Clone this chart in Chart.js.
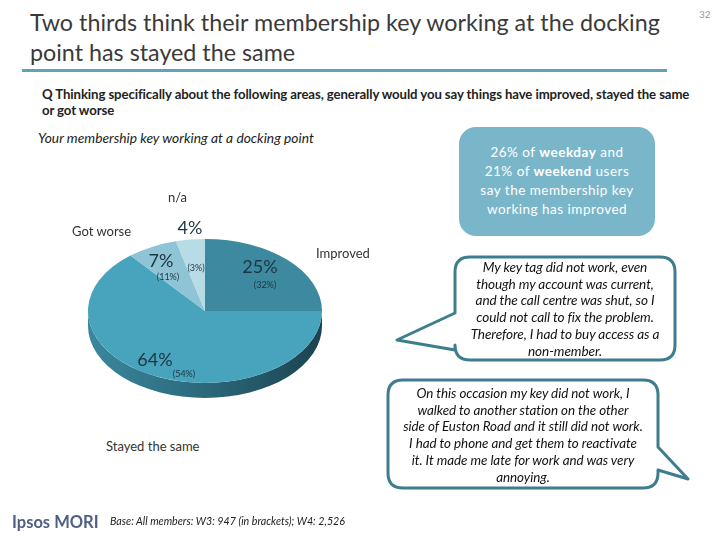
<!DOCTYPE html>
<html>
<head>
<meta charset="utf-8">
<script src="https://cdn.jsdelivr.net/npm/chart.js@4.4.1/dist/chart.umd.min.js"></script>
<style>
  html, body { margin:0; padding:0; background:#fff; }
  body { width:720px; height:540px; position:relative; overflow:hidden; font-family: Lato, "Open Sans", sans-serif; }
  .abs { position:absolute; white-space:nowrap; }
  #title { left:30px; top:7px; font-size:23.3px; line-height:30px; color:#3a3a3a; white-space:normal; width:670px; }
  #rule { left:22px; top:69px; width:645px; height:3px; background:#5ea4b7; }
  #question { left:42px; top:86px; font-size:13.2px; font-weight:bold; color:#222; line-height:16px; width:668px; white-space:normal; letter-spacing:-0.1px; }
  #sub { left:38px; top:129px; font-size:13.8px; font-style:italic; color:#222; }
  #page { left:699px; top:8px; font-size:10px; color:#999; }
  .cat { font-size:13px; color:#333; }
  .big { font-size:18px; line-height:1; color:#1d3540; transform:translate(-50%,-50%); }
  .small { font-size:9px; line-height:1; color:#1d3540; transform:translate(-50%,-50%); }
  #callout { left:459px; top:127px; width:196px; height:109px; background:#7ab6ca; border-radius:17px; color:#fff; font-size:13.5px; text-align:center; line-height:19px; letter-spacing:0.5px; box-sizing:border-box; padding-top:16px; }
  .quote { font-style:italic; color:#111; text-align:center; line-height:16.7px; }
  #logo { left:12px; top:512px; font-size:16.5px; font-weight:bold; color:#4f5e85; }
  #base { left:110px; top:514px; font-size:10.7px; font-style:italic; color:#222; }
  #pieWrap { left:88px; top:194px; width:234px; height:234px; }
</style>
</head>
<body>
<div class="abs" id="title">Two thirds think their membership key working at the docking point has stayed the same</div>
<div class="abs" id="rule"></div>
<div class="abs" id="page">32</div>
<div class="abs" id="question">Q Thinking specifically about the following areas, generally would you say things have improved, stayed the same<br>or got worse</div>
<div class="abs" id="sub">Your membership key working at a docking point</div>

<div class="abs" id="pieWrap"><canvas id="pie" width="234" height="234"></canvas></div>
<div id="labels"></div>

<div class="abs" id="callout">26% of <b>weekday</b> and<br>21% of <b>weekend</b> users<br>say the membership key<br>working has improved</div>

<svg class="abs" style="left:0;top:0" width="720" height="540">
  <path d="M470,257 H660 Q675,257 675,272 V345 Q675,360 660,360 H470 Q455,360 455,345 V350 L397,340 L455,313 V272 Q455,257 470,257 Z" fill="#fff" stroke="#3e7d8e" stroke-width="3" stroke-linejoin="round"/>
  <path d="M403,380 H643 Q658,380 658,395 V447 L688,479 L658,470 V473 Q658,488 643,488 H403 Q388,488 388,473 V395 Q388,380 403,380 Z" fill="#fff" stroke="#3e7d8e" stroke-width="3" stroke-linejoin="round"/>
</svg>
<div class="abs quote" style="left:455px;top:259px;width:220px;font-size:13.6px;letter-spacing:-0.1px;">My key tag did not work, even<br>though my account was current,<br>and the call centre was shut, so I<br>could not call to fix the problem.<br>Therefore, I had to buy access as a<br>non-member.</div>
<div class="abs quote" style="left:388px;top:385px;width:270px;font-size:13.4px;letter-spacing:-0.05px;">On this occasion my key did not work, I<br>walked to another station on the other<br>side of Euston Road and it still did not work.<br>I had to phone and get them to reactivate<br>it. It made me late for work and was very<br>annoying.</div>

<div class="abs" id="logo">Ipsos MORI</div>
<div class="abs" id="base">Base: All members: W3: 947 (in brackets); W4: 2,526</div>

<script>
// ---- data ----
const categories = ["Improved", "Stayed the same", "Got worse", "n/a"];
const wave4 = [25, 64, 7, 4];          // main figures (W4)
const wave3 = [32, 54, 11, 3];         // in brackets (W3)
const sliceColors = ["#3d8aa0", "#48a3bd", "#8ec4d5", "#b8dce6"];

// ---- label placement (layout only) ----
const catPos = [[316, 245], [106, 438], [72, 223], [168, 189]];
const bigPos = [[260, 266], [155, 359], [161, 260], [190, 227]];
const smallPos = [[265, 284], [184, 373], [168, 276], [196, 267]];

const lab = document.getElementById('labels');
categories.forEach((c, i) => {
  const d = document.createElement('div');
  d.className = 'abs cat'; d.textContent = c;
  d.style.left = catPos[i][0] + 'px'; d.style.top = catPos[i][1] + 'px';
  lab.appendChild(d);
});

const K = 0.615;     // vertical squash of the pie (tilt)
const DEPTH = 15;    // side depth in screen px

const tiltPlugin = {
  id: 'tilt',
  beforeDatasetsDraw(chart) {
    const ctx = chart.ctx;
    const meta = chart.getDatasetMeta(0);
    const a0 = meta.data[0];
    const cx = a0.x, cy = a0.y;
    ctx.save();
    ctx.translate(cx, cy); ctx.scale(1, K); ctx.translate(-cx, -cy);
    const d = DEPTH / K;
    meta.data.forEach((arc) => {
      const r = arc.outerRadius;
      let s = arc.startAngle, e = arc.endAngle;
      for (const shift of [0, -2 * Math.PI, 2 * Math.PI]) {
        const a = Math.max(s + shift, 0), b = Math.min(e + shift, Math.PI);
        if (a < b) {
          const g = ctx.createLinearGradient(cx - r, 0, cx + r, 0);
          g.addColorStop(0, '#3a879d');
          g.addColorStop(0.45, '#2d6c7f');
          g.addColorStop(1, '#1b4350');
          ctx.beginPath();
          ctx.arc(cx, cy, r, a, b, false);
          ctx.lineTo(cx + r * Math.cos(b), cy + r * Math.sin(b) + d);
          ctx.arc(cx, cy + d, r, b, a, true);
          ctx.closePath();
          ctx.fillStyle = g;
          ctx.fill();
        }
      }
    });
  },
  afterDatasetsDraw(chart) {
    chart.ctx.restore();
  }
};

new Chart(document.getElementById('pie'), {
  type: 'pie',
  data: {
    labels: categories,
    datasets: [{ data: wave4, backgroundColor: sliceColors, borderWidth: 0 }]
  },
  options: {
    responsive: false,
    animation: false,
    events: [],
    layout: { padding: 0 },
    plugins: { legend: { display: false }, tooltip: { enabled: false } }
  },
  plugins: [tiltPlugin]
});

wave4.forEach((v, i) => {
  const d = document.createElement('div');
  d.className = 'abs big'; d.textContent = v + '%';
  d.style.left = bigPos[i][0] + 'px'; d.style.top = bigPos[i][1] + 'px';
  lab.appendChild(d);
  const s = document.createElement('div');
  s.className = 'abs small'; s.textContent = '(' + wave3[i] + '%)';
  s.style.left = smallPos[i][0] + 'px'; s.style.top = smallPos[i][1] + 'px';
  lab.appendChild(s);
});
</script>
</body>
</html>
